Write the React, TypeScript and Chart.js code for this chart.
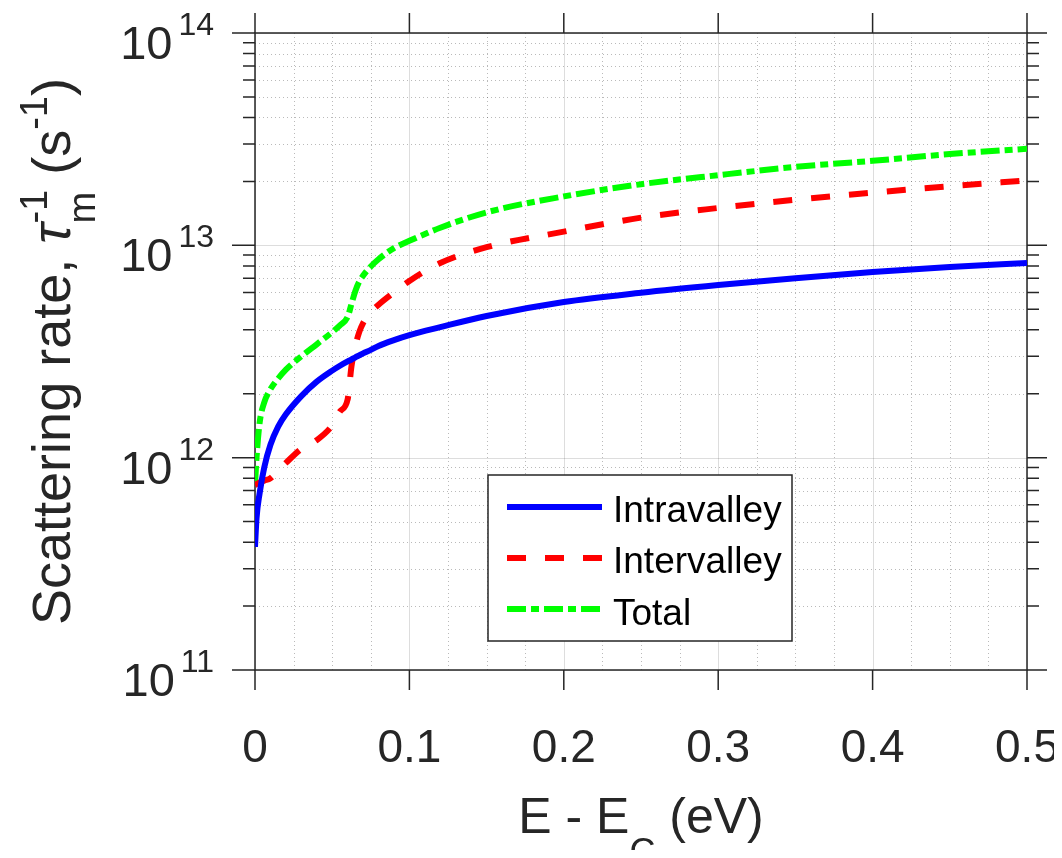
import React, { useEffect, useRef } from 'react';
import { Chart, registerables } from 'chart.js';

Chart.register(...registerables);

// ---- Data ----
const energy = [0, 0.001, 0.003, 0.006, 0.01, 0.015, 0.02, 0.03, 0.04, 0.05, 0.055, 0.06, 0.0625, 0.065, 0.0675, 0.07, 0.075, 0.08, 0.09, 0.1, 0.12, 0.15, 0.2, 0.25, 0.3, 0.35, 0.4, 0.45, 0.5];
const intravalley = [3.8e11, 5.2e11, 6.8e11, 9.0e11, 1.15e12, 1.4e12, 1.6e12, 1.95e12, 2.28e12, 2.57e12, 2.71e12, 2.84e12, 2.9e12, 2.97e12, 3.03e12, 3.1e12, 3.22e12, 3.36e12, 3.58e12, 3.78e12, 4.12e12, 4.65e12, 5.41e12, 5.98e12, 6.5e12, 7.0e12, 7.48e12, 7.9e12, 8.26e12];
const intervalley = [7.44e11, 7.5e11, 7.65e11, 7.8e11, 8.0e11, 8.7e11, 9.45e11, 1.1e12, 1.21e12, 1.42e12, 1.65e12, 1.88e12, 2.7e12, 3.35e12, 3.9e12, 4.3e12, 4.85e12, 5.25e12, 6.0e12, 6.8e12, 8.25e12, 9.8e12, 1.16e13, 1.35e13, 1.5e13, 1.64e13, 1.77e13, 1.9e13, 2.02e13];
const total = [7.44e11, 1.0e12, 1.46e12, 1.82e12, 2.1e12, 2.36e12, 2.6e12, 3.0e12, 3.42e12, 3.9e12, 4.2e12, 4.6e12, 5.3e12, 6.1e12, 6.75e12, 7.2e12, 7.95e12, 8.6e12, 9.7e12, 1.05e13, 1.21e13, 1.43e13, 1.7e13, 1.94e13, 2.14e13, 2.34e13, 2.5e13, 2.69e13, 2.85e13];

const seriesLabels = ['Intravalley', 'Intervalley', 'Total'];
const xTickValues = [0, 0.1, 0.2, 0.3, 0.4, 0.5];
const xTickLabels = ['0', '0.1', '0.2', '0.3', '0.4', '0.5'];
const yDecades = [11, 12, 13, 14];

const FONT = '"Liberation Sans", Arial, Helvetica, sans-serif';
const AX = '#262626';

type Piece = { t?: string; size?: number; dy?: number; italic?: boolean; stack?: Piece[] };

function fontOf(p: Piece) {
  return `${p.italic ? 'italic ' : ''}${p.size}px ${FONT}`;
}
function pieceWidth(ctx: CanvasRenderingContext2D, p: Piece): number {
  if (p.stack) return Math.max(...p.stack.map((s) => pieceWidth(ctx, s)));
  ctx.font = fontOf(p);
  return ctx.measureText(p.t || '').width;
}
function drawRich(ctx: CanvasRenderingContext2D, pieces: Piece[], cx: number, y: number) {
  const w = pieces.reduce((s, p) => s + pieceWidth(ctx, p), 0);
  let x = cx - w / 2;
  ctx.textAlign = 'left';
  ctx.textBaseline = 'alphabetic';
  for (const p of pieces) {
    const pw = pieceWidth(ctx, p);
    const list = p.stack ? p.stack : [p];
    for (const s of list) {
      ctx.font = fontOf(s);
      ctx.fillText(s.t || '', x, y + (s.dy || 0));
    }
    x += pw;
  }
}

const matlabAxes = {
  id: 'matlabAxes',
  beforeDatasetsDraw(chart: any) {
    const { ctx, chartArea: a, scales } = chart;
    const xs = scales.x;
    const ys = scales.y;
    ctx.save();
    // minor grid (dotted)
    ctx.lineWidth = 1;
    ctx.strokeStyle = 'rgba(40,40,40,0.32)';
    ctx.setLineDash([1, 3]);
    for (let d = 11; d < 14; d++) {
      for (let m = 2; m <= 9; m++) {
        const py = Math.round(ys.getPixelForValue(m * Math.pow(10, d))) + 0.5;
        ctx.beginPath();
        ctx.moveTo(a.left, py);
        ctx.lineTo(a.right, py);
        ctx.stroke();
      }
    }
    for (let i = 1; i < 20; i++) {
      if (i % 4 === 0) continue;
      const px = Math.round(xs.getPixelForValue(i * 0.025)) + 0.5;
      ctx.beginPath();
      ctx.moveTo(px, a.top);
      ctx.lineTo(px, a.bottom);
      ctx.stroke();
    }
    // major grid
    ctx.setLineDash([]);
    ctx.strokeStyle = 'rgba(30,30,30,0.15)';
    for (const d of yDecades) {
      const py = Math.round(ys.getPixelForValue(Math.pow(10, d))) + 0.5;
      ctx.beginPath();
      ctx.moveTo(a.left, py);
      ctx.lineTo(a.right, py);
      ctx.stroke();
    }
    for (const v of xTickValues) {
      const px = Math.round(xs.getPixelForValue(v)) + 0.5;
      ctx.beginPath();
      ctx.moveTo(px, a.top);
      ctx.lineTo(px, a.bottom);
      ctx.stroke();
    }
    // box
    ctx.strokeStyle = AX;
    ctx.lineWidth = 1.5;
    ctx.strokeRect(a.left, a.top, a.right - a.left, a.bottom - a.top);
    // ticks (outward)
    ctx.beginPath();
    for (const v of xTickValues) {
      const px = xs.getPixelForValue(v);
      ctx.moveTo(px, a.bottom);
      ctx.lineTo(px, a.bottom + 20);
      ctx.moveTo(px, a.top);
      ctx.lineTo(px, a.top - 20);
    }
    for (const d of yDecades) {
      const py = ys.getPixelForValue(Math.pow(10, d));
      ctx.moveTo(a.left, py);
      ctx.lineTo(a.left - 23, py);
      ctx.moveTo(a.right, py);
      ctx.lineTo(a.right + 20, py);
    }
    for (let d = 11; d < 14; d++) {
      for (let m = 2; m <= 9; m++) {
        const py = ys.getPixelForValue(m * Math.pow(10, d));
        ctx.moveTo(a.left, py);
        ctx.lineTo(a.left - 12, py);
        ctx.moveTo(a.right, py);
        ctx.lineTo(a.right + 12, py);
      }
    }
    ctx.stroke();

    // tick labels
    ctx.fillStyle = AX;
    ctx.textBaseline = 'alphabetic';
    ctx.font = `46px ${FONT}`;
    ctx.textAlign = 'center';
    xTickValues.forEach((v, i) => {
      ctx.fillText(xTickLabels[i], xs.getPixelForValue(v), 754);
    });
    for (const d of yDecades) {
      const py = ys.getPixelForValue(Math.pow(10, d));
      ctx.font = `32px ${FONT}`;
      const exp = String(d);
      const ew = ctx.measureText(exp).width;
      const supLeft = 206 - ew;
      ctx.textAlign = 'left';
      ctx.fillText(exp, supLeft, py + 2);
      ctx.font = `47px ${FONT}`;
      ctx.textAlign = 'right';
      ctx.fillText('10', supLeft - 6, py + 26);
    }

    // x title
    ctx.fillStyle = AX;
    drawRich(ctx, [
      { t: 'E - E', size: 50 },
      { t: 'C', size: 36, dy: 31 },
      { t: ' (eV)', size: 50 },
    ], (a.left + a.right) / 2, 825);

    // y title
    ctx.save();
    ctx.translate(62, (a.top + a.bottom) / 2);
    ctx.rotate(-Math.PI / 2);
    drawRich(ctx, [
      { t: 'Scattering rate, ', size: 54 },
      { t: '\u03C4', size: 54, italic: true },
      { stack: [{ t: 'm', size: 38, dy: 25 }, { t: '-1', size: 38, dy: -23 }] },
      { t: ' (s', size: 54 },
      { t: '-1', size: 38, dy: -23 },
      { t: ')', size: 54 },
    ], 0, 0);
    ctx.restore();
    ctx.restore();
  },
  afterDatasetsDraw(chart: any) {
    const { ctx } = chart;
    const ds = chart.data.datasets;
    ctx.save();
    // legend box
    ctx.fillStyle = '#ffffff';
    ctx.fillRect(480, 467, 304, 166);
    ctx.strokeStyle = AX;
    ctx.lineWidth = 1.5;
    ctx.strokeRect(480, 467, 304, 166);
    const rows = [499, 550, 601];
    const base = [514, 565, 617];
    ds.forEach((d: any, i: number) => {
      ctx.strokeStyle = d.borderColor;
      ctx.lineWidth = 6;
      ctx.lineCap = 'butt';
      ctx.setLineDash(d.borderDash || []);
      ctx.beginPath();
      ctx.moveTo(499, rows[i]);
      ctx.lineTo(594, rows[i]);
      ctx.stroke();
      ctx.setLineDash([]);
      ctx.fillStyle = '#000000';
      ctx.font = `37px ${FONT}`;
      ctx.textAlign = 'left';
      ctx.textBaseline = 'alphabetic';
      ctx.fillText(d.label, 605, base[i]);
    });
    ctx.restore();
  },
};

export default function App() {
  const ref = useRef<HTMLCanvasElement | null>(null);
  useEffect(() => {
    if (!ref.current) return;
    const mk = (vals: number[]) => energy.map((e, i) => ({ x: e, y: vals[i] }));
    const common = { borderWidth: 6, pointRadius: 0, fill: false, borderCapStyle: 'butt', borderJoinStyle: 'round', cubicInterpolationMode: 'monotone' };
    const chart = new Chart(ref.current, {
      type: 'line',
      data: {
        datasets: [
          { label: seriesLabels[0], data: mk(intravalley), borderColor: '#0000ff', ...common },
          { label: seriesLabels[1], data: mk(intervalley), borderColor: '#ff0000', borderDash: [19, 19], ...common },
          { label: seriesLabels[2], data: mk(total), borderColor: '#00ff00', borderDash: [19, 5, 8, 5], ...common },
        ],
      },
      options: {
        animation: false,
        responsive: false,
        devicePixelRatio: 1,
        layout: { padding: { left: 247, right: 27, top: 25, bottom: 180 } },
        scales: {
          x: { type: 'linear', min: 0, max: 0.5, display: false },
          y: { type: 'logarithmic', min: 1e11, max: 1e14, display: false },
        },
        plugins: { legend: { display: false }, tooltip: { enabled: false } },
      },
      plugins: [matlabAxes],
    } as any);
    return () => chart.destroy();
  }, []);
  return (
    <div style={{ width: 1046, height: 842 }}>
      <canvas ref={ref} width={1046} height={842} style={{ display: 'block' }} />
    </div>
  );
}
